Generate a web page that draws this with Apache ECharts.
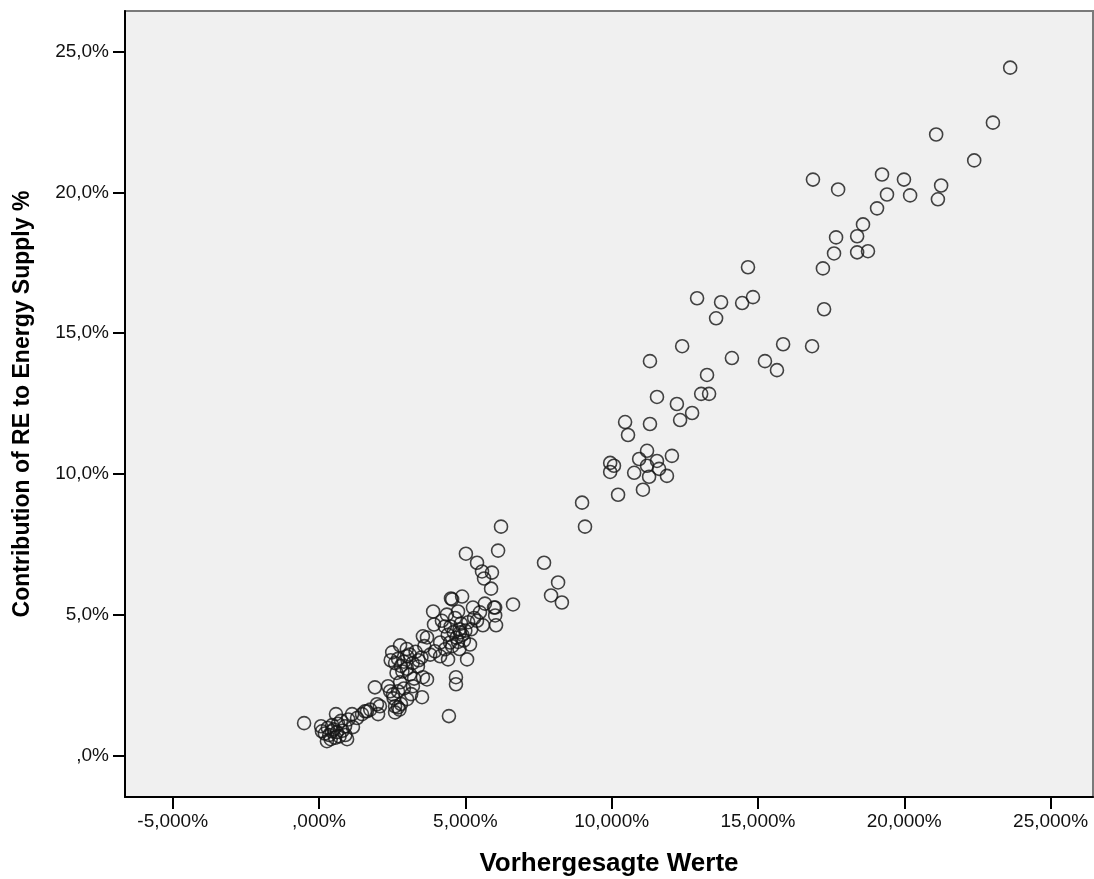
<!DOCTYPE html>
<html><head><meta charset="utf-8">
<script src="https://cdn.jsdelivr.net/npm/echarts@6/dist/echarts.min.js"></script>
<style>html,body{margin:0;padding:0;background:#fff}#c{width:1094px;height:879px}</style>
</head><body><div id="c"></div>
<script>
// Predicted values (x, %) vs observed contribution of RE to energy supply (y, %)
const upperPoints = [[23.62,24.42],[23.03,22.47],[21.09,22.05],[22.39,21.13],[16.88,20.45],[17.74,20.10],[19.24,20.63],[19.99,20.45],[21.26,20.24],[19.41,19.92],[20.20,19.89],[21.15,19.75],[19.07,19.43],[18.59,18.86],[17.67,18.40],[18.39,18.44],[17.60,17.83],[18.39,17.87],[18.76,17.91],[17.22,17.30],[17.26,15.85],[16.85,14.54],[15.86,14.61]];
const midUpperPoints = [[14.66,17.34],[12.92,16.24],[13.74,16.10],[14.46,16.07],[14.83,16.28],[13.57,15.53],[12.41,14.54],[11.31,14.01],[14.11,14.12],[15.24,14.01],[15.65,13.69],[13.26,13.52],[13.06,12.85],[13.33,12.85],[11.55,12.74],[12.23,12.49],[12.75,12.17],[12.34,11.92],[10.46,11.85],[11.31,11.78],[10.56,11.39],[11.21,10.83],[12.06,10.65],[9.95,10.40],[10.08,10.30],[9.95,10.08],[10.94,10.54],[11.55,10.47],[11.21,10.30],[10.77,10.05],[11.62,10.19],[11.28,9.91],[11.89,9.94],[11.07,9.45],[10.22,9.27],[8.99,8.99],[9.09,8.14],[7.69,6.86],[8.17,6.16],[7.93,5.70],[8.30,5.45]];
const middlePoints = [[6.22,8.14],[6.12,7.29],[5.02,7.18],[5.40,6.86],[5.57,6.55],[5.91,6.51],[5.64,6.30],[5.88,5.94],[6.63,5.38],[4.51,5.59],[4.89,5.66],[5.67,5.41],[5.26,5.27],[6.02,5.27],[6.02,4.99],[3.90,5.13],[4.55,5.56],[5.98,5.27],[6.05,4.64],[5.60,4.64],[4.75,5.13],[4.37,5.02],[5.06,3.43],[4.41,3.43],[4.68,2.80],[4.68,2.55],[3.69,4.21],[4.14,4.03],[3.96,3.72],[3.55,2.80],[4.44,1.42],[3.93,4.67],[2.77,3.93],[3.55,4.25],[1.91,2.44],[2.36,2.48],[2.77,2.62],[3.21,2.48],[3.52,2.09],[3.69,2.72],
 [4.6,4.4],[4.8,4.5],[4.7,4.2],[4.9,4.3],[4.5,4.6],[4.75,4.05],[4.85,4.7],[4.65,4.9],[5.1,4.75],[5.3,4.9],[5.2,4.5],[4.4,4.3],[4.95,4.1],[4.3,4.6],[5.0,4.45],[4.55,3.9],[4.8,3.8],[5.4,4.8],[5.5,5.1],[4.2,4.8]];
const clusterPoints = [[2.50,3.68],[3.01,3.54],[3.38,3.18],[3.11,2.90],[4.14,3.54],[4.31,3.79],[4.82,4.39],[5.16,3.96],[4.48,4.03],[2.60,1.77],[2.08,1.77],[1.64,1.59],[3.01,2.02],[2.53,2.19],[2.43,2.30],[2.70,1.73],
 [2.6,3.3],[2.8,3.2],[2.7,3.45],[2.9,3.35],[3.0,3.1],[3.2,3.3],[3.1,3.6],[3.3,3.7],[3.4,3.4],[2.65,2.95],[2.85,3.0],[3.6,3.9],[3.8,3.6],[3.5,3.5],[2.45,3.4],[3.0,3.8],[3.25,2.75],[2.7,2.3],[2.9,2.4],[2.55,2.05],[2.8,1.85],[2.75,1.65],[2.6,1.55],[3.15,2.2]];
const lowPoints = [[-0.51,1.17],[0.07,1.06],[0.58,1.49],[1.13,1.49],[1.16,1.03],[0.96,0.60],[0.27,0.53],[0.44,0.88],[0.61,0.85],[0.10,0.88],[0.89,1.06],[1.57,1.59],[1.98,1.84],[2.02,1.49],[1.47,1.49],
 [0.35,0.75],[0.5,0.95],[0.7,0.7],[0.45,1.1],[0.8,0.9],[0.3,1.0],[0.65,1.15],[0.55,0.65],[0.2,0.8],[0.75,1.25],[1.0,1.3],[0.4,0.6],[0.9,0.75],[1.3,1.35],[1.75,1.65]];
const xTicks = [-5,0,5,10,15,20,25];
const yTicks = [0,5,10,15,20,25];
const xTitle = 'Vorhergesagte Werte';
const yTitle = 'Contribution of RE to Energy Supply %';

const allPoints = [].concat(upperPoints, midUpperPoints, middlePoints, clusterPoints, lowPoints);
const fmtX = v => (v === 0 ? ',000' : v.toFixed(3).replace('.', ',')) + '%';
const fmtY = v => (v === 0 ? ',0' : v.toFixed(1).replace('.', ',')) + '%';
const font = '"Liberation Sans", Arial, sans-serif';

const chart = echarts.init(document.getElementById('c'), null, {renderer: 'canvas'});
chart.setOption({
  animation: false,
  backgroundColor: '#ffffff',
  grid: {left: 125, right: 1, top: 11, bottom: 82, outerBoundsMode: 'none', containLabel: false, show: true, backgroundColor: '#f0f0f0', borderColor: '#7a7a7a', borderWidth: 2},
  xAxis: {
    type: 'value', min: -6.63, max: 26.45,
    name: xTitle, nameLocation: 'middle', nameGap: 54,
    nameTextStyle: {fontFamily: font, fontSize: 26, fontWeight: 'bold', color: '#000'},
    axisLine: {show: true, onZero: false, lineStyle: {color: '#000', width: 2}},
    axisTick: {show: true, length: 12, customValues: xTicks, lineStyle: {color: '#000', width: 2}},
    axisLabel: {customValues: xTicks, formatter: fmtX, margin: 15, fontFamily: font, fontSize: 19, color: '#111'},
    splitLine: {show: false}
  },
  yAxis: {
    type: 'value', min: -1.45, max: 26.43,
    name: yTitle, nameLocation: 'middle', nameGap: 91, nameRotate: 90,
    nameTextStyle: {fontFamily: font, fontSize: 23, fontWeight: 'bold', color: '#000'},
    axisLine: {show: true, onZero: false, lineStyle: {color: '#000', width: 2}},
    axisTick: {show: true, length: 12, customValues: yTicks, lineStyle: {color: '#000', width: 2}},
    axisLabel: {customValues: yTicks, formatter: fmtY, margin: 16, fontFamily: font, fontSize: 19, color: '#111'},
    splitLine: {show: false}
  },
  series: [{
    type: 'scatter', data: allPoints, symbol: 'circle', symbolSize: 13,
    itemStyle: {color: 'rgba(0,0,0,0)', borderColor: '#151515', borderWidth: 1.6}
  }]
});
</script></body></html>
